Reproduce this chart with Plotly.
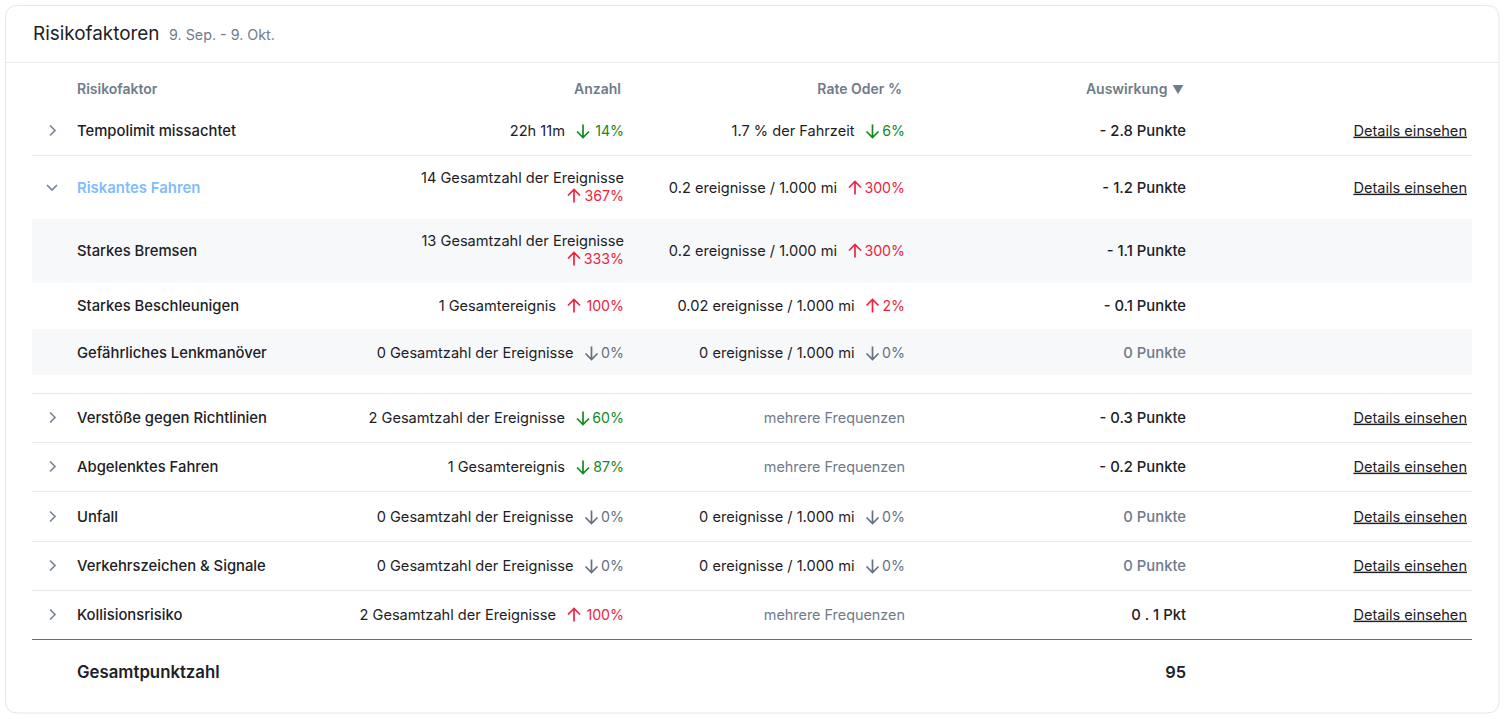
import plotly.graph_objects as go

# ---- data ----
factors = ["Tempolimit missachtet", "Riskantes Fahren", "Starkes Bremsen", "Starkes Beschleunigen",
           "Gefährliches Lenkmanöver", "Verstöße gegen Richtlinien", "Abgelenktes Fahren", "Unfall",
           "Verkehrszeichen & Signale", "Kollisionsrisiko"]
counts = ["22h 11m", "14 Gesamtzahl der Ereignisse", "13 Gesamtzahl der Ereignisse", "1 Gesamtereignis",
          "0 Gesamtzahl der Ereignisse", "2 Gesamtzahl der Ereignisse", "1 Gesamtereignis",
          "0 Gesamtzahl der Ereignisse", "0 Gesamtzahl der Ereignisse", "2 Gesamtzahl der Ereignisse"]
count_arrow = ["down", "up", "up", "up", "down", "down", "down", "down", "down", "up"]
count_change = ["14%", "367%", "333%", "100%", "0%", "60%", "87%", "0%", "0%", "100%"]
count_state = ["good", "bad", "bad", "bad", "none", "good", "good", "none", "none", "bad"]
rates = ["1.7 % der Fahrzeit", "0.2 ereignisse / 1.000 mi", "0.2 ereignisse / 1.000 mi",
         "0.02 ereignisse / 1.000 mi", "0 ereignisse / 1.000 mi", "mehrere Frequenzen", "mehrere Frequenzen",
         "0 ereignisse / 1.000 mi", "0 ereignisse / 1.000 mi", "mehrere Frequenzen"]
rate_arrow = ["down", "up", "up", "up", "down", "", "", "down", "down", ""]
rate_change = ["6%", "300%", "300%", "2%", "0%", "", "", "0%", "0%", ""]
rate_state = ["good", "bad", "bad", "bad", "none", "", "", "none", "none", ""]
impacts = ["- 2.8 Punkte", "- 1.2 Punkte", "- 1.1 Punkte", "- 0.1 Punkte", "0 Punkte", "- 0.3 Punkte",
           "- 0.2 Punkte", "0 Punkte", "0 Punkte", "0 . 1 Pkt"]
headers = ["Risikofaktor", "Anzahl", "Rate Oder %", "Auswirkung"]
sort_mark = "▼"
details_label = "Details einsehen"
title, subtitle = "Risikofaktoren", "9. Sep. - 9. Okt."
total_label, total_value = "Gesamtpunktzahl", "95"
expandable = [True, True, False, False, False, True, True, True, True, True]
wrapped = [False, True, True, False, False, False, False, False, False, False]

# ---- layout constants ----
FONT = "Inter"
INK, MUTED, RED, GREEN, NEUTRAL, BLUE = "#1d2126", "#6f7b8b", "#ee2340", "#128a1e", "#66707f", "#80bcff"
row_y = [132, 189, 252, 307, 354, 419, 468, 518, 567, 616]
X_NAME, X_COUNT, X_RATE, X_IMPACT, X_DETAIL = 77, 624, 905, 1186, 1467
STATE = {"good": GREEN, "bad": RED, "none": NEUTRAL, "": MUTED}
ARROW_OFFSET = {2: 32.5, 3: 41, 4: 50}  # arrow centre left of the column edge, by label length
BODY, NAME = 14.6, 14.8

fig = go.Figure()
shapes = []


def txt(x, y, s, pos, size=BODY, color=INK, weight=400):
    fig.add_trace(go.Scatter(x=[x], y=[y], text=[s], mode="text", textposition=pos, hoverinfo="skip",
                             cliponaxis=False, showlegend=False,
                             textfont=dict(family=FONT, size=size, color=color, weight=weight)))


def arrow(cx, cy, direction, color):
    s = -1 if direction == "up" else 1
    tip = cy + s * 6.5
    p = f"M {cx} {cy - s * 6.5} L {cx} {tip} M {cx - 6} {tip - s * 6} L {cx} {tip} L {cx + 6} {tip - s * 6}"
    shapes.append(dict(type="path", path=p, line=dict(color=color, width=1.7)))


def cell(right, y, main, direction, change, state, wrap, main_color=INK, main_size=BODY):
    if not change:
        txt(right, y, main, "middle left", size=main_size, color=main_color)
        return
    off = ARROW_OFFSET[len(change)]
    col = STATE[state]
    if wrap:
        txt(right, y - 10, main, "middle left", size=main_size, color=main_color)
        txt(right, y + 8, change, "middle left", size=14.2, color=col)
        arrow(right - off, y + 7, direction, col)
    else:
        txt(right - off - 18, y, main, "middle left", size=main_size, color=main_color)
        txt(right, y, change, "middle left", size=14.2, color=col)
        arrow(right - off, y - 1, direction, col)


shapes += [
    dict(type="path", path="M 18 5.5 H 1487 Q 1499 5.5 1499 17.5 V 701 Q 1499 713 1487 713 H 18 Q 5.5 713 5.5 701 V 17.5 Q 5.5 5.5 18 5.5 Z",
         line=dict(color="#e4e7ee", width=1), fillcolor="white", layer="below"),
    dict(type="line", x0=6, x1=1499, y0=62.5, y1=62.5, line=dict(color="#e8eaf0", width=1), layer="below"),
    dict(type="rect", x0=32, x1=1472, y0=219, y1=283, line_width=0, fillcolor="#f7f8fa", layer="below"),
    dict(type="rect", x0=32, x1=1472, y0=329, y1=375, line_width=0, fillcolor="#f7f8fa", layer="below"),
]
for y in [155.5, 393.5, 442.5, 491.5, 541.5, 590.5]:
    shapes.append(dict(type="line", x0=32, x1=1472, y0=y, y1=y, line=dict(color="#e6e8ec", width=1), layer="below"))
shapes.append(dict(type="line", x0=32, x1=1472, y0=639.5, y1=639.5, line=dict(color="#666d78", width=1), layer="below"))

for i, y in enumerate(row_y):
    if expandable[i]:
        c = y - 1.5
        if factors[i] == "Riskantes Fahren":
            p = f"M 47 {c-2.5} L 52 {c+2.5} L 57 {c-2.5}"
        else:
            p = f"M 50 {c-5} L 55 {c} L 50 {c+5}"
        shapes.append(dict(type="path", path=p, line=dict(color="#7a8699", width=1.7)))
    risky = factors[i] == "Riskantes Fahren"
    txt(X_NAME, y, factors[i], "middle right", size=14.9 if risky else NAME,
        color=BLUE if risky else INK, weight=600 if risky else 500)
    cell(X_COUNT, y, counts[i], count_arrow[i], count_change[i], count_state[i], wrapped[i])
    cell(X_RATE, y, rates[i], rate_arrow[i], rate_change[i], rate_state[i], False,
         main_color=INK if rate_change[i] else MUTED, main_size=BODY if rate_change[i] else 14.4)
    txt(X_IMPACT, y, impacts[i], "middle left", size=NAME, color=MUTED if impacts[i] == "0 Punkte" else INK, weight=500)
    if expandable[i]:
        txt(X_DETAIL, y, f"<u>{details_label}</u>", "middle left")

txt(33, 35, title, "middle right", size=18.9)
txt(169, 36, subtitle, "middle right", size=14.3, color=MUTED)
txt(X_NAME, 90, headers[0], "middle right", size=14, color=MUTED, weight=600)
txt(621, 90, headers[1], "middle left", size=14, color=MUTED, weight=600)
txt(902, 90, headers[2], "middle left", size=14, color=MUTED, weight=600)
txt(1184, 90, f"{headers[3]}\u00a0\u200a<span style='font-size:11.5px'>{sort_mark}</span>", "middle left",
    size=14, color=MUTED, weight=600)
txt(X_NAME, 674, total_label, "middle right", size=16.8, weight=600)
txt(X_IMPACT, 674, total_value, "middle left", size=16.4, weight=600)

fig.update_layout(
    width=1504, height=719, margin=dict(l=0, r=0, t=0, b=0),
    paper_bgcolor="white", plot_bgcolor="white", shapes=shapes, showlegend=False,
    xaxis=dict(range=[0, 1504], visible=False, fixedrange=True),
    yaxis=dict(range=[719, 0], visible=False, fixedrange=True),
)
fig.write_html("out.html", config={"displayModeBar": False},
               post_script="document.body.style.margin='0';document.body.style.overflow='hidden';")
